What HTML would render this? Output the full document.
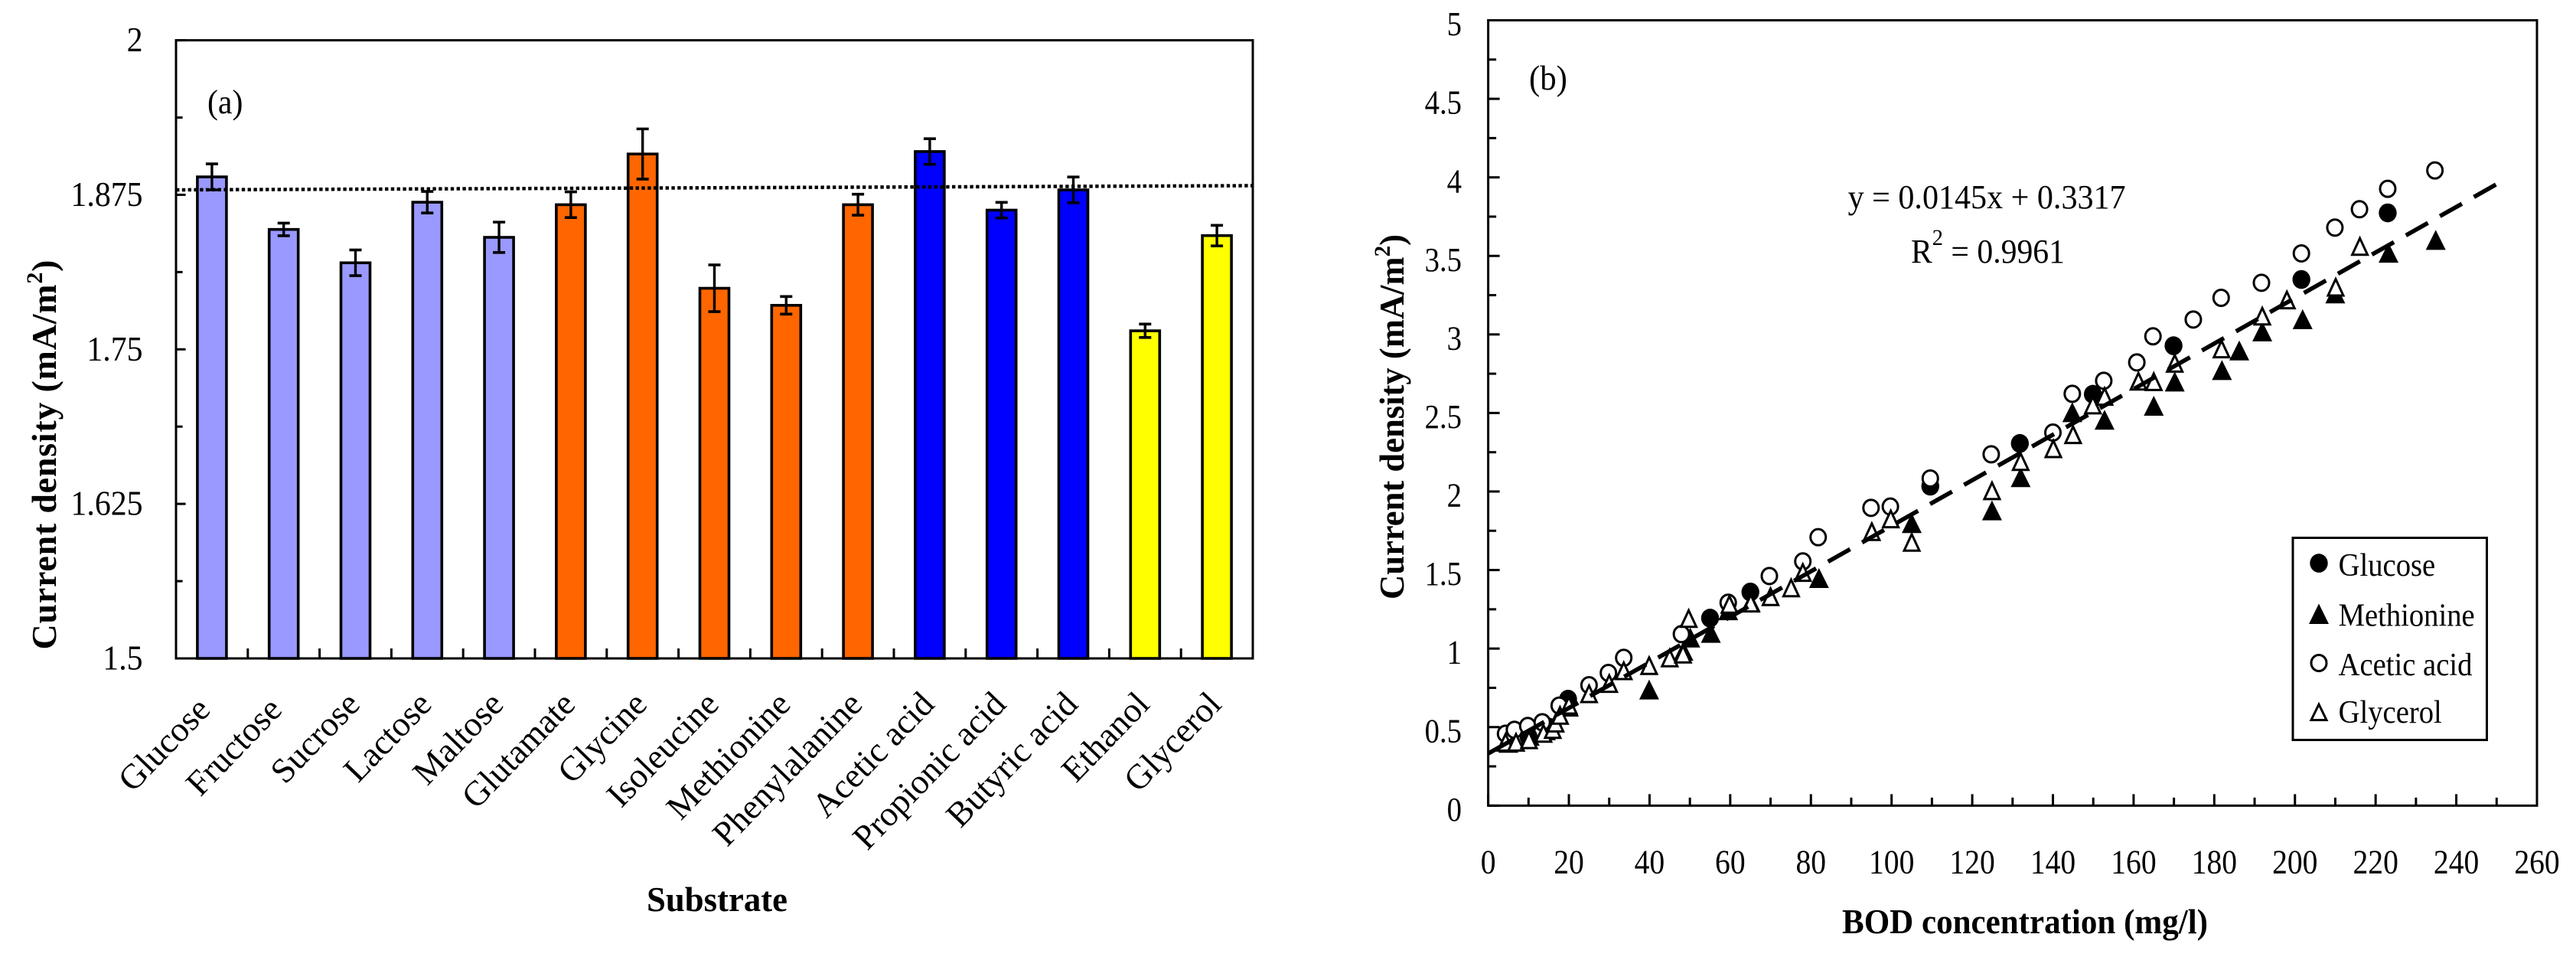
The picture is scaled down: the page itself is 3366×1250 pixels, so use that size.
<!DOCTYPE html>
<html lang="en">
<head>
<meta charset="utf-8">
<title>Current density by substrate and BOD concentration</title>
<style>
html,body{margin:0;padding:0;background:#fff;}
svg{display:block;}
text{font-family:"Liberation Serif",serif;fill:#000;}
</style>
</head>
<body>
<svg id="fig" xmlns="http://www.w3.org/2000/svg" width="3366" height="1250" viewBox="0 0 3366 1250">
  <rect x="0" y="0" width="3366" height="1250" fill="#fff"/>
  <g id="panelA"></g>
  <g id="panelB"></g>

  <text transform="translate(271,148) scale(0.95,1)" font-size="44">(a)</text>
  <text transform="translate(73,594) rotate(-90)" text-anchor="middle" font-size="46" font-weight="bold" textLength="509" lengthAdjust="spacing">Current density (mA/m<tspan dy="-18" font-size="30">2</tspan><tspan dy="18">)</tspan></text>
  <text x="937" y="1190" text-anchor="middle" font-size="45" font-weight="bold" textLength="184" lengthAdjust="spacingAndGlyphs">Substrate</text>

  <text transform="translate(1998,117) scale(0.93,1)" font-size="46">(b)</text>
  <text transform="translate(1834,544.5) rotate(-90)" text-anchor="middle" font-size="46" font-weight="bold" textLength="477" lengthAdjust="spacingAndGlyphs">Current density (mA/m<tspan dy="-18" font-size="30">2</tspan><tspan dy="18">)</tspan></text>
  <text x="2407" y="1219" font-size="46" font-weight="bold" textLength="478" lengthAdjust="spacingAndGlyphs">BOD concentration (mg/l)</text>
  <text x="2414.6" y="272" font-size="44" textLength="363" lengthAdjust="spacingAndGlyphs">y = 0.0145x + 0.3317</text>
  <text x="2497" y="343" font-size="44" textLength="201" lengthAdjust="spacingAndGlyphs">R<tspan dy="-23" font-size="30">2</tspan><tspan dy="23"> = 0.9961</tspan></text>

  <g>
    <rect x="2996" y="702.5" width="253.5" height="264" fill="#fff" stroke="#000" stroke-width="3"/>
    <ellipse cx="3030" cy="735.6" rx="11.7" ry="12.3" fill="#000"/>
    <path d="M3030 788.5L3043 815L3017 815Z" fill="#000"/>
    <ellipse cx="3030" cy="866" rx="10" ry="10.5" fill="#fff" stroke="#000" stroke-width="3"/>
    <path d="M3030 920L3040 940.5L3020 940.5Z" fill="#fff" stroke="#000" stroke-width="3"/>
    <text transform="translate(3055.6,752) scale(0.92,1)" font-size="42">Glucose</text>
    <text transform="translate(3055.6,817.5) scale(0.92,1)" font-size="42">Methionine</text>
    <text transform="translate(3055.6,882) scale(0.92,1)" font-size="42">Acetic acid</text>
    <text transform="translate(3055.6,944) scale(0.92,1)" font-size="42">Glycerol</text>
  </g>
</svg>
<script>
// ---- Panel (a) data ----
const categories = ['Glucose','Fructose','Sucrose','Lactose','Maltose','Glutamate','Glycine','Isoleucine','Methionine','Phenylalanine','Acetic acid','Propionic acid','Butyric acid','Ethanol','Glycerol'];
const barValues = [1.8895,1.847,1.820,1.869,1.8406,1.867,1.908,1.7994,1.7856,1.867,1.910,1.8626,1.879,1.765,1.842];
const barErrors = [0.0105,0.0051,0.0104,0.0087,0.0123,0.0104,0.0203,0.0189,0.0071,0.0085,0.0104,0.0063,0.0104,0.0054,0.0083];
const substrateGroups = ['sugar','sugar','sugar','sugar','sugar','amino','amino','amino','amino','amino','acid','acid','acid','alcohol','alcohol'];
const yTicksA = [1.5,1.625,1.75,1.875,2];
const yTickLabelsA = ['1.5','1.625','1.75','1.875','2'];
const yMinorTicksA = [1.5625,1.6875,1.8125,1.9375];
const referenceLine = [1.879,1.8824];

// ---- Panel (b) data ----
const glucoseX = [10,15,19.8,55,65,109.6,131.8,149.9,169.9,201.6,223];
const glucoseY = [0.44,0.5,0.678,1.194,1.36,2.034,2.306,2.619,2.928,3.35,3.774];
const methionineX = [5,10.3,14.3,20,39.9,48.4,50.1,55.2,59.5,65.1,82,105,124.9,132,144.8,152.8,165,170.2,181.9,186.2,191.9,201.9,210,223.2,234.9];
const methionineY = [0.40,0.445,0.48,0.63,0.739,0.986,1.07,1.10,1.244,1.295,1.449,1.799,1.88,2.091,2.505,2.457,2.546,2.70,2.773,2.898,3.019,3.097,3.261,3.52,3.602];
const aceticX = [4.3,6.5,9.8,13.4,17.6,25,29.8,33.6,47.9,59.5,69.7,78,81.8,94.9,99.7,109.6,124.7,140,144.8,152.6,160.8,164.8,174.8,181.7,191.7,201.6,209.9,216,223,234.7];
const aceticY = [0.458,0.483,0.507,0.531,0.637,0.767,0.845,0.941,1.092,1.292,1.462,1.555,1.709,1.896,1.904,2.083,2.237,2.375,2.622,2.705,2.822,2.988,3.095,3.233,3.329,3.516,3.68,3.797,3.927,4.044];
const glycerolX = [4.3,6.9,10.1,13.7,16,16.7,17.8,20,25,30,33.6,39.9,45,48.3,49.7,59.8,65.1,70,75.1,78,95.1,99.8,105,124.9,132,140.1,145,149.9,152.8,161.2,165,170.2,181.8,191.9,198,210.1,216.1];
const glycerolY = [0.409,0.409,0.425,0.466,0.49,0.531,0.58,0.645,0.718,0.783,0.864,0.897,0.946,0.97,1.197,1.287,1.295,1.336,1.392,1.49,1.75,1.831,1.682,2.01,2.196,2.278,2.367,2.556,2.611,2.708,2.705,2.822,2.913,3.122,3.225,3.306,3.566];
const trendSlope = 0.0145;
const trendIntercept = 0.3317;
const trendXRange = [0,250];
const xTicksB = [0,20,40,60,80,100,120,140,160,180,200,220,240,260];
const xMinorTicksB = [10,30,50,70,90,110,130,150,170,190,210,230,250];
const yTicksB = [0,0.5,1,1.5,2,2.5,3,3.5,4,4.5,5];
const yMinorTicksB = [0.25,0.75,1.25,1.75,2.25,2.75,3.25,3.75,4.25,4.75];

const NS = 'http://www.w3.org/2000/svg';
const groupFill = {sugar:'#9999ff',amino:'#ff6600',acid:'#0000ff',alcohol:'#ffff00'};

// Axis functions
const A = {left:230,right:1637,top:52.6,bottom:860};
const B = {left:1944.6,right:3315,top:26.5,bottom:1052.3};
function catX(i){return A.left+(A.right-A.left)*(i+0.5)/categories.length;}
function yA(v){return A.bottom-(v-1.5)/(2-1.5)*(A.bottom-A.top);}
function xB(v){return B.left+v/260*(B.right-B.left);}
function yB(v){return B.bottom-v/5*(B.bottom-B.top);}

function mk(parent,tag,attrs){
  const el=document.createElementNS(NS,tag);
  for(const k in attrs){el.setAttribute(k,attrs[k]);}
  parent.appendChild(el);
  return el;
}
function seg(parent,x1,y1,x2,y2,w){
  return mk(parent,'line',{x1:x1,y1:y1,x2:x2,y2:y2,stroke:'#000','stroke-width':w});
}
function label(parent,str,x,y,size,anchor,sx){
  const el=mk(parent,'text',{transform:'translate('+x+','+y+') scale('+sx+',1)','font-size':size,'text-anchor':anchor});
  el.textContent=str;
  return el;
}

// ---- Panel (a) ----
(function(){
  const root=document.getElementById('panelA');
  categories.forEach(function(name,i){
    const cx=catX(i);
    const top=yA(barValues[i]);
    const bar=mk(root,'rect',{x:cx-19,y:top,width:38,height:yA(1.5)-top,fill:groupFill[substrateGroups[i]],stroke:'#000','stroke-width':3.6});
    
    
  });
  const ref=mk(root,'line',{x1:A.left,x2:A.right,y1:yA(referenceLine[0]),y2:yA(referenceLine[1]),stroke:'#000','stroke-width':4.5,'stroke-dasharray':'4.4 3.4'});
  
  
  categories.forEach(function(name,i){
    const cx=catX(i);
    const hi=yA(barValues[i]+barErrors[i]);
    const lo=yA(barValues[i]-barErrors[i]);
    const g=mk(root,'g',{});
    
    
    seg(g,cx,hi,cx,lo,3.4);
    seg(g,cx-8,hi,cx+8,hi,3.6);
    seg(g,cx-8,lo,cx+8,lo,3.6);
  });
  const frame=mk(root,'rect',{x:A.left,y:A.top,width:A.right-A.left,height:A.bottom-A.top,fill:'none',stroke:'#000','stroke-width':3});
  
  
  const ticks=mk(root,'g',{});
  
  
  yTicksA.forEach(function(v,i){
    seg(ticks,A.left,yA(v),A.left+12.6,yA(v),3);
    const t=label(root,yTickLabelsA[i],186.6,yA(v)+14.5,46,'end',0.91);
    
    
  });
  yMinorTicksA.forEach(function(v){seg(ticks,A.left,yA(v),A.left+8.6,yA(v),3);});
  for(let i=1;i<categories.length;i++){
    const x=A.left+(A.right-A.left)*i/categories.length;
    seg(ticks,x,A.bottom,x,A.bottom-13,3);
  }
  categories.forEach(function(name,i){
    const early=i<2;
    const x0=catX(i)+(early?0:8);
    const y0=early?929:922;
    const t=mk(root,'text',{transform:'translate('+x0+','+y0+') rotate(-46)','font-size':45.5,'text-anchor':'end'});
    t.textContent=name;
    
    
  });
})();

// ---- Panel (b) ----
(function(){
  const root=document.getElementById('panelB');
  const frame=mk(root,'rect',{x:B.left,y:B.top,width:B.right-B.left,height:B.bottom-B.top,fill:'none',stroke:'#000','stroke-width':3});
  
  
  const ticks=mk(root,'g',{});
  
  
  xTicksB.forEach(function(v){
    seg(ticks,xB(v),B.bottom,xB(v),B.bottom-15,3);
    const t=label(root,String(v),xB(v),1140.5,44,'middle',0.9);
    
    
  });
  xMinorTicksB.forEach(function(v){seg(ticks,xB(v),B.bottom,xB(v),B.bottom-10.5,3);});
  yTicksB.forEach(function(v){
    seg(ticks,B.left,yB(v),B.left+15,yB(v),3);
    const t=label(root,String(v),1910,yB(v)+19.6,44,'end',0.88);
    
    
  });
  yMinorTicksB.forEach(function(v){seg(ticks,B.left,yB(v),B.left+10.5,yB(v),3);});

  const gGlu=mk(root,'g',{fill:'#000'});
  
  
  glucoseX.forEach(function(x,i){
    mk(gGlu,'ellipse',{cx:xB(x),cy:yB(glucoseY[i]),rx:11.7,ry:12.3});
  });
  const gMet=mk(root,'g',{fill:'#000'});
  
  
  methionineX.forEach(function(x,i){
    const px=xB(x),py=yB(methionineY[i]);
    mk(gMet,'path',{d:'M'+px+' '+(py-13)+'L'+(px+13)+' '+(py+13)+'L'+(px-13)+' '+(py+13)+'Z'});
  });
  const gAce=mk(root,'g',{fill:'#fff',stroke:'#000','stroke-width':3});
  
  
  aceticX.forEach(function(x,i){
    mk(gAce,'ellipse',{cx:xB(x),cy:yB(aceticY[i]),rx:10,ry:10.5});
  });
  const gGly=mk(root,'g',{fill:'#fff',stroke:'#000','stroke-width':3});
  
  
  glycerolX.forEach(function(x,i){
    const px=xB(x),py=yB(glycerolY[i]);
    mk(gGly,'path',{d:'M'+px+' '+(py-9.5)+'L'+(px+10)+' '+(py+12)+'L'+(px-10)+' '+(py+12)+'Z'});
  });
  const trend=mk(root,'line',{
    x1:xB(trendXRange[0]),y1:yB(trendSlope*trendXRange[0]+trendIntercept),
    x2:xB(trendXRange[1]),y2:yB(trendSlope*trendXRange[1]+trendIntercept),
    stroke:'#000','stroke-width':5.6,'stroke-dasharray':'33 18'
  });
  
  
})();
</script>
</body>
</html>
